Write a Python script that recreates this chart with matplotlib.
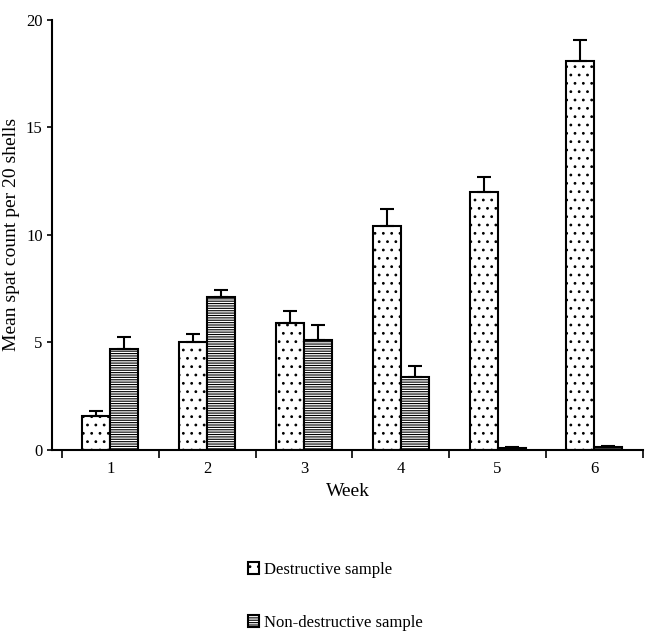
import matplotlib.pyplot as plt
import numpy as np

plt.rcParams['font.family'] = 'Liberation Serif'
plt.rcParams['hatch.linewidth'] = 0.8

weeks = ['1', '2', '3', '4', '5', '6']
destructive = [1.6, 5.0, 5.9, 10.4, 12.0, 18.1]
destructive_err = [0.2, 0.4, 0.55, 0.8, 0.7, 0.95]
nondestructive = [4.7, 7.1, 5.1, 3.4, 0.1, 0.15]
nondestructive_err = [0.55, 0.35, 0.7, 0.5, 0.05, 0.05]

fig = plt.figure(figsize=(6.71, 6.33), dpi=100)
ax = fig.add_axes([0.078, 0.289, 0.88, 0.68])

x = np.arange(len(weeks))
w = 0.29
ekw = dict(elinewidth=1.5, capsize=5, capthick=1.5, ecolor='black')
ax.bar(x - w/2, destructive, w, yerr=[np.zeros(6), destructive_err], color='white',
       edgecolor='black', linewidth=1.5, hatch='..', error_kw=ekw, label='Destructive sample')
ax.bar(x + w/2, nondestructive, w, yerr=[np.zeros(6), nondestructive_err], color='white',
       edgecolor='black', linewidth=1.5, hatch='-------', error_kw=ekw, label='Non-destructive sample')

ax.set_xlim(-0.6, 5.5)
ax.set_ylim(0, 20)
ax.set_yticks([0, 5, 10, 15, 20])
ax.set_xticks(x)
ax.set_xticklabels(weeks)
ax.set_xticks(np.arange(-0.5, 5.6, 1), minor=True)
ax.tick_params(axis='x', which='major', length=0, labelsize=12, pad=8)
ax.tick_params(axis='x', which='minor', length=6, width=1.2, direction='out')
ax.tick_params(axis='y', labelsize=12, direction='out', width=1.2)
for s in ['top', 'right']:
    ax.spines[s].set_visible(False)
for s in ['left', 'bottom']:
    ax.spines[s].set_linewidth(1.5)
ax.set_xlabel('Week', fontsize=14)
ax.set_ylabel('Mean spat count per 20 shells', fontsize=14)

fig.legend(loc='lower center', bbox_to_anchor=(0.5, -0.02), frameon=False, fontsize=12,
           handlelength=0.7, handleheight=0.7, labelspacing=2.2, handletextpad=0.3)

fig.savefig('out.png')
